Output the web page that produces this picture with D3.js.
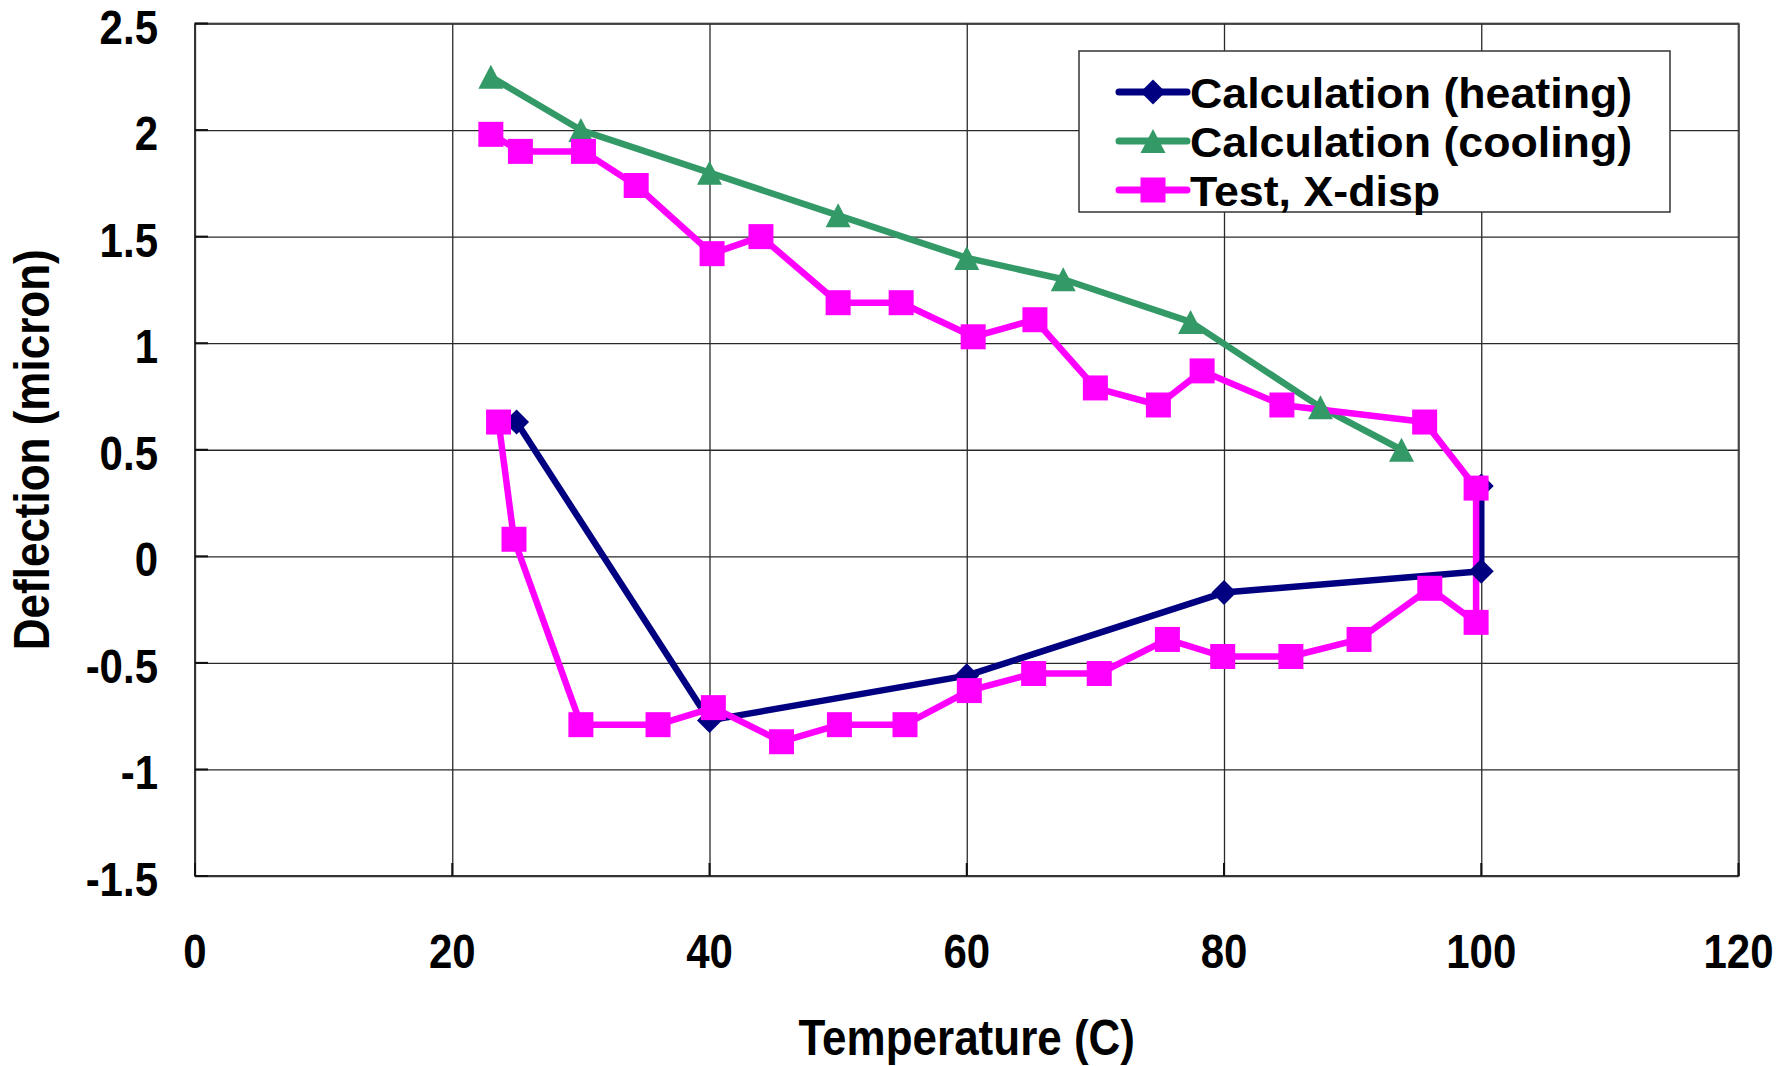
<!DOCTYPE html>
<html>
<head>
<meta charset="utf-8">
<script src="https://cdn.jsdelivr.net/npm/d3@7"></script>
<style>
  body { margin: 0; background: #fff; }
  svg text { font-family: 'Liberation Sans', Arial, sans-serif; font-weight: bold; fill: #000; }
</style>
</head>
<body>
<svg id="chart" width="1781" height="1066"></svg>
<script>
// values
var xTicks = [0, 20, 40, 60, 80, 100, 120];
var yTicks = [-1.5, -1, -0.5, 0, 0.5, 1, 1.5, 2, 2.5];

var heatTemp = [25, 40, 60, 80, 100, 100];
var heatDefl = [0.63, -0.77, -0.56, -0.17, -0.07, 0.33];

var coolTemp = [23, 30, 40, 50, 60, 67.5, 77.4, 87.5, 93.8];
var coolDefl = [2.25, 2.0, 1.8, 1.6, 1.4, 1.3, 1.1, 0.7, 0.5];

var testTemp = [23.6, 24.8, 30, 36, 40.3, 45.6, 50.1, 55.2, 60.2, 65.2, 70.3, 75.6, 79.9, 85.2, 90.5, 96, 99.6,
    99.6, 95.6, 84.5, 78.3, 74.9, 70, 65.3, 60.5, 54.9, 50, 44, 40.2, 34.3, 30.2, 25.3, 23];
var testDefl = [0.63, 0.08, -0.79, -0.79, -0.71, -0.87, -0.79, -0.79, -0.63, -0.55, -0.55, -0.39, -0.47, -0.47, -0.39, -0.15, -0.31,
    0.32, 0.63, 0.71, 0.87, 0.71, 0.79, 1.11, 1.03, 1.19, 1.19, 1.5, 1.42, 1.74, 1.9, 1.9, 1.98];

var seriesNames = ['Calculation (heating)', 'Calculation (cooling)', 'Test, X-disp'];
var seriesColors = ['#000080', '#339966', '#ff00ff'];
var seriesShapes = ['diamond', 'triangle', 'square'];

var svg = d3.select('#chart');

var plot = {l: 195, r: 1738.5, t: 23.5, b: 876};

var xScale = d3.scaleLinear().domain([0, 120]).range([plot.l, plot.r]);
var yScale = d3.scaleLinear().domain([-1.5, 2.5]).range([plot.b, plot.t]);

function zip(xs, ys) {
    return xs.map(function(x, i) { return {x: x, y: ys[i]}; });
}

// the original text is a bit taller than plain Arial
function place(x, y, rot, sx, sy) {
    return 'translate(' + [x, y] + ')' + (rot ? ' rotate(' + rot + ')' : '') + ' scale(' + [sx || 1, sy || 1.15] + ')';
}

var series = [
    zip(heatTemp, heatDefl),
    zip(coolTemp, coolDefl),
    zip(testTemp, testDefl)
];

// plot frame
svg.append('rect')
    .attr('x', plot.l)
    .attr('y', plot.t)
    .attr('width', plot.r - plot.l)
    .attr('height', plot.b - plot.t)
    .style('fill', '#fff')
    .style('stroke', '#808080')
    .style('stroke-width', 2);

// grid
var xAxis = d3.axisBottom(xScale).tickValues(xTicks).tickSize(-(plot.b - plot.t)).tickFormat('');
var yAxis = d3.axisLeft(yScale).tickValues(yTicks).tickSize(-(plot.r - plot.l)).tickFormat('');

svg.append('g')
    .attr('class', 'grid')
    .attr('transform', 'translate(0,' + plot.b + ')')
    .call(xAxis);

svg.append('g')
    .attr('class', 'grid')
    .attr('transform', 'translate(' + plot.l + ',0)')
    .call(yAxis);

svg.selectAll('.grid .domain').remove();
svg.selectAll('.grid line').style('stroke', '#2a2a2a').style('stroke-width', 1.3);

// axis lines with inside ticks
svg.append('line')
    .attr('x1', plot.l).attr('x2', plot.l)
    .attr('y1', plot.t).attr('y2', plot.b)
    .style('stroke', '#333').style('stroke-width', 2);
svg.append('line')
    .attr('x1', plot.l).attr('x2', plot.r)
    .attr('y1', plot.b).attr('y2', plot.b)
    .style('stroke', '#333').style('stroke-width', 2);

svg.append('g').selectAll('line')
    .data(yTicks)
    .enter()
    .append('line')
    .attr('x1', plot.l).attr('x2', plot.l + 13)
    .attr('y1', function(d) { return yScale(d); })
    .attr('y2', function(d) { return yScale(d); })
    .style('stroke', '#111').style('stroke-width', 2);

svg.append('g').selectAll('line')
    .data(xTicks)
    .enter()
    .append('line')
    .attr('y1', plot.b).attr('y2', plot.b - 13)
    .attr('x1', function(d) { return xScale(d); })
    .attr('x2', function(d) { return xScale(d); })
    .style('stroke', '#111').style('stroke-width', 2);

// tick labels
svg.append('g').selectAll('text')
    .data(yTicks)
    .enter()
    .append('text')
    .attr('transform', function(d) { return place(158, yScale(d) + 20); })
    .attr('text-anchor', 'end')
    .style('font-size', '42px')
    .text(function(d) { return d; });

svg.append('g').selectAll('text')
    .data(xTicks)
    .enter()
    .append('text')
    .attr('transform', function(d) { return place(xScale(d), 968); })
    .attr('text-anchor', 'middle')
    .style('font-size', '42px')
    .text(function(d) { return d; });

// axis titles
svg.append('text')
    .attr('transform', place((plot.l + plot.r) / 2, 1055))
    .attr('text-anchor', 'middle')
    .style('font-size', '44px')
    .text('Temperature (C)');

svg.append('text')
    .attr('transform', place(49, (plot.t + plot.b) / 2, -90))
    .attr('text-anchor', 'middle')
    .style('font-size', '44px')
    .text('Deflection (micron)');

// markers
function markerPath(shape) {
    if (shape == 'diamond') return 'M0,-12.5L12.5,0L0,12.5L-12.5,0Z';
    if (shape == 'triangle') return 'M0,-12L12.5,12L-12.5,12Z';
    return 'M-12.5,-12.5L12.5,-12.5L12.5,12.5L-12.5,12.5Z';
}

var line = d3.line()
    .x(function(d) { return xScale(d.x); })
    .y(function(d) { return yScale(d.y); });

var lines = svg.append('g');
var marks = svg.append('g');

series.forEach(function(s, i) {
    lines.append('path')
        .datum(s)
        .attr('d', line)
        .style('fill', 'none')
        .style('stroke', seriesColors[i])
        .style('stroke-width', 6.5)
        .style('stroke-linejoin', 'round');
});

series.forEach(function(s, i) {
    marks.selectAll('.m' + i)
        .data(s)
        .enter()
        .append('path')
        .attr('class', 'm' + i)
        .attr('d', markerPath(seriesShapes[i]))
        .attr('transform', function(d) { return 'translate(' + [xScale(d.x), yScale(d.y)] + ')'; })
        .style('fill', seriesColors[i]);
});

// legend
var legend = svg.append('g');
legend.append('rect')
    .attr('x', 1079)
    .attr('y', 51)
    .attr('width', 591)
    .attr('height', 161)
    .style('fill', '#fff')
    .style('stroke', '#333')
    .style('stroke-width', 1.5);

var rowY = [92, 141, 190];
seriesNames.forEach(function(name, i) {
    legend.append('line')
        .attr('x1', 1119).attr('x2', 1187)
        .attr('y1', rowY[i]).attr('y2', rowY[i])
        .style('stroke', seriesColors[i])
        .style('stroke-width', 7)
        .style('stroke-linecap', 'round');
    legend.append('path')
        .attr('d', markerPath(seriesShapes[i]))
        .attr('transform', 'translate(' + [1153, rowY[i]] + ')')
        .style('fill', seriesColors[i]);
    legend.append('text')
        .attr('transform', place(1190, rowY[i] + 16, 0, 1.04, 1))
        .style('font-size', '43px')
        .text(name);
});
</script>
</body>
</html>
